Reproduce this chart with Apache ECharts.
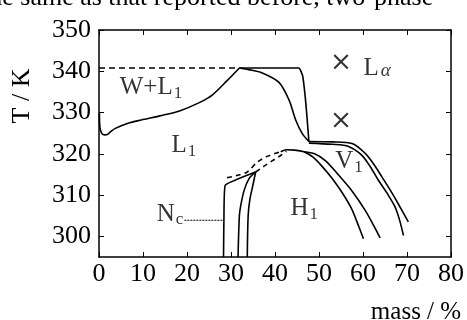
<!DOCTYPE html>
<html>
<head>
<meta charset="utf-8">
<script src="https://cdn.jsdelivr.net/npm/echarts@6/dist/echarts.min.js"></script>
<style>
  html, body { margin: 0; padding: 0; background: #fff; }
  #chart { width: 467px; height: 320px; }
</style>
</head>
<body>
<div id="chart"></div>
<script>
// axis ticks
var xTicks = [0, 10, 20, 30, 40, 50, 60, 70, 80];
var yTicks = [300, 310, 320, 330, 340, 350];

// phase boundaries, [mass %, T / K]
var tieLine340 = [[0, 340.8], [31.9, 340.8]];
var l1Boundary = [[0.1, 329.8], [0.2, 326.5], [0.6, 325], [1.2, 324.6], [1.9, 324.7], [2.6, 325.3],
  [3.6, 326.1], [6.6, 327.4], [9.6, 328.2], [13.8, 329.2], [18.3, 330.4], [22.8, 332.4],
  [25.8, 334.3], [29, 337.6], [31.9, 340.8]];
var plateauDrop = [[31.9, 340.8], [45.4, 340.8], [46.3, 338.8], [46.9, 333.5], [47.3, 328.5], [47.7, 323]];
var sCurve = [[31.9, 340.8], [34, 340.4], [37.1, 339.6], [40.9, 337.3], [43.2, 333], [44.7, 328.2],
  [46.2, 324.9], [47.7, 323]];
var curveA = [[47.7, 323.0], [53, 322.9], [57.5, 322.5], [60.5, 320.1], [62.5, 317.4], [64.3, 314.4],
  [66.2, 311.2], [68.0, 307.9], [70.3, 303.5]];
var curveB = [[47.7, 322.6], [53, 322.3], [56.7, 321.8], [59.7, 319.7], [61.7, 316.8], [63.5, 313.6],
  [65.5, 310.4], [67.3, 307.1], [68.3, 304.0], [69.2, 300.2]];
var curveC = [[46.6, 320.5], [49, 320.0], [51.5, 318.3], [54.5, 314.8], [57.5, 311.0], [60.5, 306.3],
  [62.5, 302.5], [63.9, 299.6]];
var curveD = [[46.6, 320.5], [48.5, 319.3], [50.5, 317.2], [53, 314.0], [55.5, 310.2], [57.5, 306.5],
  [59, 302.5], [60.1, 299.4]];
var domeSolid = [[41.3, 320.5], [42.6, 321.0], [44.5, 320.9], [46.6, 320.5]];
var domeDashUpper = [[29.1, 314.2], [31.5, 314.8], [33.7, 315.6], [36, 318.0], [38.5, 319.5], [41.3, 320.5]];
var domeDashLower = [[35.6, 315.6], [37.5, 317.0], [39.5, 318.4], [41.3, 319.6], [42.6, 320.6]];
var ncLeft = [[28.3, 295], [28.4, 305], [28.7, 312.4], [35.6, 315.6]];
var ncMiddle = [[35.6, 315.6], [34.1, 314.0], [33.0, 311.2], [32.2, 307.4], [31.9, 305], [31.6, 295]];
var ncRight = [[35.6, 315.6], [35.0, 312.5], [34.3, 309], [33.9, 305], [33.7, 295]];
var ncPointer = [[19.4, 303.9], [28.3, 303.9]];
var crossPoints = [[55, 342.3], [55, 328.2]];

// phase labels: [x, y, text]
var phaseLabels = [
  [4.7, 335.9, '{m|W+L}{s|1}'],
  [16.5, 321.8, '{m|L}{s|1}'],
  [60.1, 340.5, '{m|L}{a|α}'],
  [53.7, 318.0, '{m|V}{s|1}'],
  [43.5, 306.6, '{m|H}{s|1}'],
  [13.1, 305.3, '{m|N}{s|c}']
];

var font = 'Liberation Serif';
var chart = echarts.init(document.getElementById('chart'), null, { renderer: 'canvas' });

function curve(data, dash, smooth) {
  return {
    type: 'line', data: data, symbol: 'none', smooth: smooth === undefined ? 0.3 : smooth,
    clip: true, silent: true,
    lineStyle: { color: '#000', width: 1.6, type: dash || 'solid' }
  };
}

var series = [
  curve(tieLine340, [6, 4], false),
  curve(l1Boundary),
  curve(plateauDrop, null, 0.15),
  curve(sCurve),
  curve(curveA),
  curve(curveB),
  curve(curveC),
  curve(curveD),
  curve(domeSolid),
  curve(domeDashUpper, [5, 4]),
  curve(domeDashLower, [5, 4]),
  curve(ncLeft, null, 0.1),
  curve(ncMiddle),
  curve(ncRight),
  {
    type: 'line', data: ncPointer, symbol: 'none', silent: true,
    lineStyle: { color: '#000', width: 1, type: [2, 1] }
  },
  {
    type: 'scatter', data: crossPoints, silent: true,
    symbol: 'path://M0,1L1,0L5,4L9,0L10,1L6,5L10,9L9,10L5,6L1,10L0,9L4,5Z',
    symbolSize: 15, itemStyle: { color: '#000' }
  },
  {
    type: 'scatter', silent: true, symbolSize: 0,
    data: phaseLabels.map(function (d) { return { value: [d[0], d[1]], text: d[2] }; }),
    label: {
      show: true, position: 'inside', align: 'left', verticalAlign: 'middle',
      formatter: function (p) { return p.data.text; },
      rich: {
        m: { fontFamily: font, fontSize: 25, color: '#000', verticalAlign: 'top', lineHeight: 26 },
        s: { fontFamily: font, fontSize: 17, color: '#000', verticalAlign: 'top', lineHeight: 18, padding: [10, 0, 0, 1] },
        a: { fontFamily: font, fontSize: 19, fontStyle: 'italic', color: '#000', verticalAlign: 'top', lineHeight: 20, padding: [5, 0, 0, 2] }
      }
    }
  }
];

var axisCommon = {
  type: 'value',
  axisLine: { show: true, onZero: false, lineStyle: { color: '#000', width: 1.5 } },
  axisTick: { show: true, inside: true, length: 5, lineStyle: { color: '#000', width: 1 } },
  splitLine: { show: false }
};

option = {
  animation: false,
  backgroundColor: '#fff',
  grid: { left: 99, right: 14, top: 30, bottom: 63 },
  xAxis: [
    Object.assign({}, axisCommon, {
      min: 0, max: 80, interval: 10, position: 'bottom',
      axisLabel: { color: '#000', fontFamily: font, fontSize: 26, margin: 4, showMaxLabel: true,
        customValues: xTicks }
    }),
    Object.assign({}, axisCommon, {
      min: 0, max: 80, interval: 10, position: 'top', axisLabel: { show: false }
    })
  ],
  yAxis: [
    Object.assign({}, axisCommon, {
      min: 295, max: 350, position: 'left',
      axisTick: Object.assign({}, axisCommon.axisTick, { customValues: yTicks }),
      axisLabel: { color: '#000', fontFamily: font, fontSize: 26, margin: 8, customValues: yTicks }
    }),
    Object.assign({}, axisCommon, {
      min: 295, max: 350, position: 'right',
      axisTick: Object.assign({}, axisCommon.axisTick, { customValues: yTicks }),
      axisLabel: { show: false }
    })
  ],
  graphic: [
    {
      type: 'text', x: -18, y: -15, silent: true,
      style: { text: 'the same as that reported before, two-phase', fontFamily: font, fontSize: 26, fill: '#000',
        verticalAlign: 'top' }
    },
    {
      type: 'text', x: 22, y: 96, rotation: Math.PI / 2, silent: true,
      style: { text: 'T / K', fontFamily: font, fontSize: 26, fill: '#000', align: 'center', verticalAlign: 'middle' }
    },
    {
      type: 'text', x: 416, y: 312, silent: true,
      style: { text: 'mass / %', fontFamily: font, fontSize: 25, fill: '#000', align: 'center', verticalAlign: 'middle' }
    }
  ],
  series: series
};

chart.setOption(option);
</script>
</body>
</html>
